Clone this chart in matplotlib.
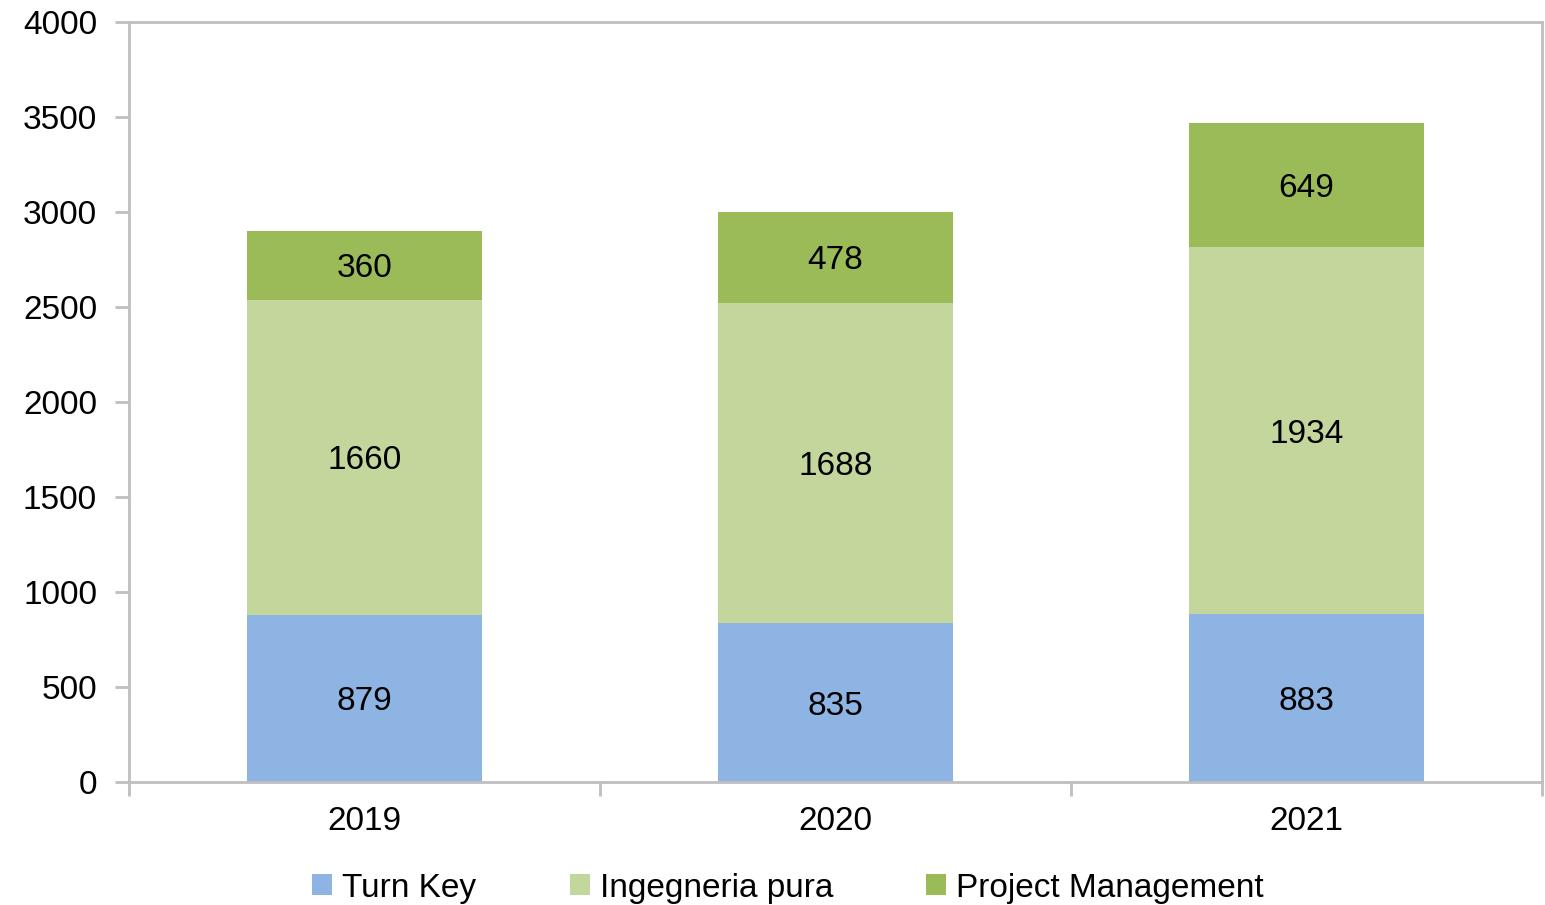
import matplotlib
import matplotlib.pyplot as plt
import numpy as np
from matplotlib.ticker import FixedLocator

matplotlib.use("Agg")

years = ["2019", "2020", "2021"]
turn_key = [879, 835, 883]
ingegneria_pura = [1660, 1688, 1934]
project_mgmt = [360, 478, 649]

series = [
    ("Turn Key", turn_key, "#8EB4E3"),
    ("Ingegneria pura", ingegneria_pura, "#C3D69B"),
    ("Project Management", project_mgmt, "#9BBB59"),
]

plt.rcParams["font.family"] = ["Liberation Sans", "DejaVu Sans"]
AXIS_GRAY = "#BFBFBF"
FS = 24

fig = plt.figure(figsize=(15.45, 9.05), dpi=100)
ax = fig.add_axes([129 / 1545, 1 - 782 / 905, (1542 - 129) / 1545, (782 - 22) / 905])

x = np.arange(len(years))
bottom = np.zeros(len(years))
for name, vals, color in series:
    vals = np.array(vals, dtype=float)
    bars = ax.bar(x, vals, 0.5, bottom=bottom, color=color, label=name, zorder=2)
    for rect, v, b in zip(bars, vals, bottom):
        ax.text(rect.get_x() + rect.get_width() / 2, b + v / 2, f"{int(v)}",
                ha="center", va="center_baseline", fontsize=FS, color="black")
    bottom += vals

ax.set_xlim(-0.5, len(years) - 0.5)
ax.set_ylim(0, 4000)
ax.set_yticks(np.arange(0, 4001, 500))
ax.tick_params(axis="y", labelsize=FS, length=10, width=2, color=AXIS_GRAY, pad=13)

ax.set_xticks(x)
ax.set_xticklabels(years, fontsize=FS)
ax.tick_params(axis="x", which="major", length=0, pad=17)
ax.xaxis.set_minor_locator(FixedLocator(np.arange(-0.5, len(years), 1.0)))
ax.tick_params(axis="x", which="minor", length=10, width=2, color=AXIS_GRAY)

for sp in ax.spines.values():
    sp.set_color(AXIS_GRAY)
    sp.set_linewidth(2)

fig.legend(loc="center", bbox_to_anchor=(788 / 1545, 1 - 888 / 905), ncol=3,
           frameon=False, fontsize=FS, handlelength=0.6, handleheight=0.6,
           handletextpad=0.3, columnspacing=2.8)

fig.savefig("out.png", dpi=100)
